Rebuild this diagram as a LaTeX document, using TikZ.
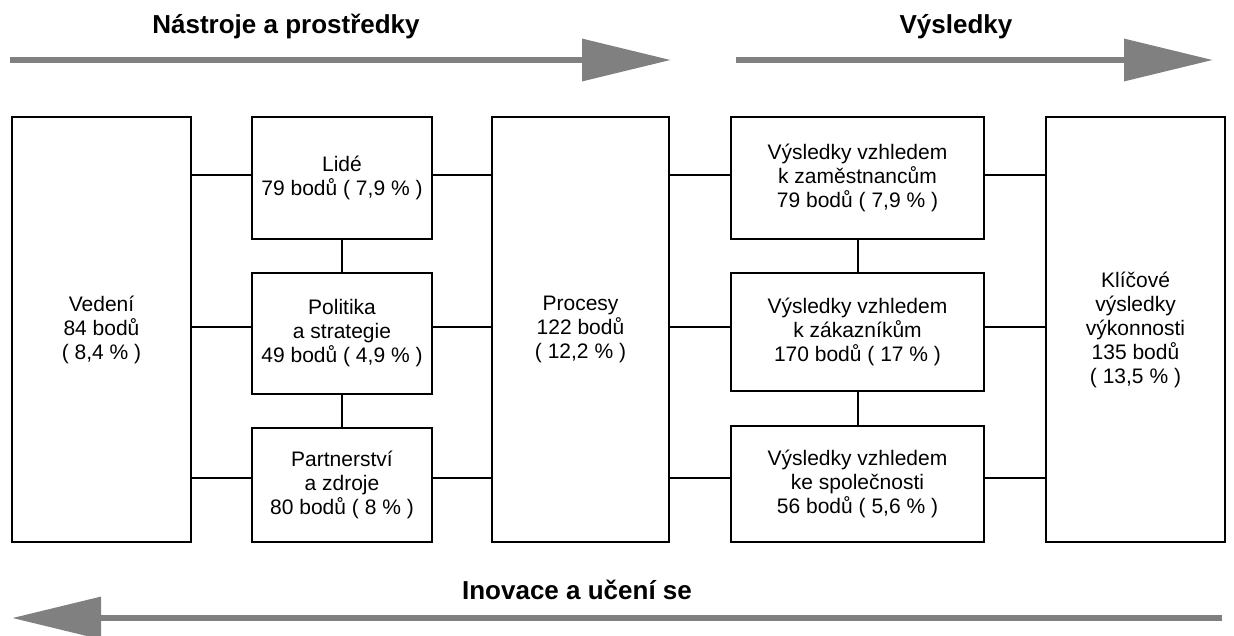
\documentclass[tikz,border=0pt]{standalone}
\usepackage{fontspec}
\setmainfont{Liberation Sans}
\usepackage{tikz}
\usetikzlibrary{positioning,arrows.meta}
\tikzset{basic/.style={draw,line width=2pt,outer sep=0pt,align=center,font=\fontsize{21}{24}\selectfont}}
\tikzset{tall/.style={basic,minimum width=178pt,minimum height=425pt}}
\tikzset{small/.style={basic,minimum width=180pt}}
\tikzset{wide/.style={basic,minimum width=253pt}}
\tikzset{link/.style={draw,line width=2pt}}
\tikzset{bigarrow/.style={draw=gray,line width=6.5pt,-{Triangle[length=89pt,width=41pt]}}}
\tikzset{title/.style={font=\fontsize{26}{30}\selectfont\bfseries,anchor=base}}

\begin{document}
\begin{tikzpicture}[x=1pt,y=-1pt]
        \useasboundingbox (0,0) rectangle (1234,635);
        % titles and arrows
        \node[title] (nastroje) at (286,33) {Nástroje a prostředky};
        \node[title] (vysledky) at (956,33) {Výsledky};
        \node[title] (inovace) at (577,599) {Inovace a učení se};
        \coordinate (a1s) at (10,60);
        \coordinate (a1e) at (671,60);
        \coordinate (a2s) at (736,60);
        \coordinate (a2e) at (1213,60);
        \coordinate (a3s) at (1222,618);
        \coordinate (a3e) at (12,618);
            \path[bigarrow] (a1s) -- (a1e);
            \path[bigarrow] (a2s) -- (a2e);
            \path[bigarrow] (a3s) -- (a3e);
        % boxes
        \node[tall,minimum width=179pt] (vedeni) at (101.5,329.5) {Vedení\\84 bodů\\( 8,4 \% )};
        \node[small,minimum height=122pt,right=61pt of vedeni.north east,anchor=north west] (lide) {Lidé\\79 bodů ( 7,9 \% )};
        \node[small,minimum height=121pt,below=34pt of lide] (politika) {Politika\\a strategie\\49 bodů ( 4,9 \% )};
        \node[small,minimum height=114pt,below=34pt of politika] (partner) {Partnerství\\a zdroje\\80 bodů ( 8 \% )};
        \node[tall,minimum width=177pt,right=60pt of lide.north east,anchor=north west] (procesy) {Procesy\\122 bodů\\( 12,2 \% )};
        \node[wide,minimum height=122pt,right=62pt of procesy.north east,anchor=north west] (zam) {Výsledky vzhledem\\k zaměstnancům\\79 bodů ( 7,9 \% )};
        \node[wide,minimum height=118pt,below=34pt of zam] (zak) {Výsledky vzhledem\\k zákazníkům\\170 bodů ( 17 \% )};
        \node[wide,minimum height=116pt,below=35pt of zak] (spol) {Výsledky vzhledem\\ke společnosti\\56 bodů ( 5,6 \% )};
        \node[tall,minimum width=179pt,right=62pt of zam.north east,anchor=north west] (klic) {Klíčové\\výsledky\\výkonnosti\\135 bodů\\( 13,5 \% )};
        % connectors
        \coordinate (row1) at (0,175);
        \coordinate (row2) at (0,327);
        \coordinate (row3) at (0,478);
            \path[link] (vedeni.east |- row1) -- (lide.west |- row1);
            \path[link] (lide.east |- row1) -- (procesy.west |- row1);
            \path[link] (procesy.east |- row1) -- (zam.west |- row1);
            \path[link] (zam.east |- row1) -- (klic.west |- row1);
            \path[link] (vedeni.east |- row2) -- (politika.west |- row2);
            \path[link] (politika.east |- row2) -- (procesy.west |- row2);
            \path[link] (procesy.east |- row2) -- (zak.west |- row2);
            \path[link] (zak.east |- row2) -- (klic.west |- row2);
            \path[link] (vedeni.east |- row3) -- (partner.west |- row3);
            \path[link] (partner.east |- row3) -- (procesy.west |- row3);
            \path[link] (procesy.east |- row3) -- (spol.west |- row3);
            \path[link] (spol.east |- row3) -- (klic.west |- row3);
            \path[link] (lide) -- (politika);
            \path[link] (politika) -- (partner);
            \path[link] (zam) -- (zak);
            \path[link] (zak) -- (spol);
    \end{tikzpicture}
\end{document}
